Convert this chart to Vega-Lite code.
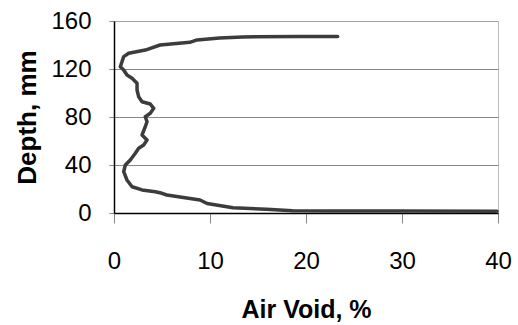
{
  "$schema": "https://vega.github.io/schema/vega-lite/v6.json",
  "autosize": {"type": "none"},
  "padding": {"left": 114, "top": 21, "right": 20, "bottom": 112},
  "width": 384,
  "height": 192,
  "background": "white",
  "config": {
    "font": "Liberation Sans",
    "view": {"stroke": "#777", "strokeDash": [1, 1], "strokeWidth": 1}
  },
  "data": {
    "values": [
      {"airvoid": 39.9, "depth": 1.4},
      {"airvoid": 29.8, "depth": 1.6},
      {"airvoid": 22.5, "depth": 1.7},
      {"airvoid": 18.6, "depth": 1.9},
      {"airvoid": 15.9, "depth": 3.1},
      {"airvoid": 12.4, "depth": 4.4},
      {"airvoid": 9.7, "depth": 7.9},
      {"airvoid": 8.96, "depth": 10.8},
      {"airvoid": 5.5, "depth": 15},
      {"airvoid": 5.0, "depth": 16.4},
      {"airvoid": 4.3, "depth": 17.75},
      {"airvoid": 2.92, "depth": 19.2},
      {"airvoid": 1.88, "depth": 21.9},
      {"airvoid": 1.35, "depth": 27.5},
      {"airvoid": 1.01, "depth": 34.4},
      {"airvoid": 1.18, "depth": 40},
      {"airvoid": 1.7, "depth": 44.2},
      {"airvoid": 2.22, "depth": 49.75},
      {"airvoid": 2.57, "depth": 53.9},
      {"airvoid": 3.09, "depth": 56.7},
      {"airvoid": 3.44, "depth": 60.8},
      {"airvoid": 2.92, "depth": 65},
      {"airvoid": 3.26, "depth": 71.9},
      {"airvoid": 3.44, "depth": 76.1},
      {"airvoid": 3.26, "depth": 80.25},
      {"airvoid": 3.78, "depth": 83.1},
      {"airvoid": 4.14, "depth": 87.25},
      {"airvoid": 3.78, "depth": 90.8},
      {"airvoid": 2.92, "depth": 92.75},
      {"airvoid": 2.57, "depth": 96.9},
      {"airvoid": 2.4, "depth": 102.5},
      {"airvoid": 2.4, "depth": 108.1},
      {"airvoid": 1.88, "depth": 112.3},
      {"airvoid": 1.35, "depth": 115},
      {"airvoid": 1.01, "depth": 119.2},
      {"airvoid": 0.66, "depth": 121.9},
      {"airvoid": 0.83, "depth": 126.1},
      {"airvoid": 1.01, "depth": 130.3},
      {"airvoid": 1.53, "depth": 133.1},
      {"airvoid": 3.26, "depth": 135.8},
      {"airvoid": 4.8, "depth": 140},
      {"airvoid": 7.9, "depth": 142.2},
      {"airvoid": 8.65, "depth": 144.2},
      {"airvoid": 11.0, "depth": 145.8},
      {"airvoid": 13.4, "depth": 146.7},
      {"airvoid": 19.4, "depth": 147.1},
      {"airvoid": 23.3, "depth": 147.1}
    ]
  },
  "mark": {"type": "line", "color": "#3c3c3c", "strokeWidth": 3.5, "strokeJoin": "round", "strokeCap": "round", "clip": false},
  "encoding": {
    "x": {
      "field": "airvoid",
      "type": "quantitative",
      "scale": {"domain": [0, 40], "nice": false},
      "axis": {
        "title": "Air Void, %",
        "values": [0, 10, 20, 30, 40],
        "grid": false,
        "domainColor": "#000",
        "domainWidth": 1.5,
        "tickColor": "#888",
        "tickSize": 10,
        "labelFontSize": 24,
        "labelColor": "#000",
        "labelPadding": 26,
        "labelFlush": false,
        "titleFontSize": 25,
        "titleFontWeight": "bold",
        "titleColor": "#000",
        "titlePadding": 24
      }
    },
    "y": {
      "field": "depth",
      "type": "quantitative",
      "scale": {"domain": [0, 160], "nice": false},
      "axis": {
        "title": "Depth, mm",
        "values": [0, 40, 80, 120, 160],
        "grid": true,
        "gridColor": "#888",
        "gridWidth": 1,
        "gridDash": {"condition": {"test": "datum.value == 160", "value": [1, 1]}, "value": []},
        "domainColor": "#000",
        "domainWidth": 1.5,
        "tickColor": "#888",
        "tickSize": 5,
        "labelFontSize": 24,
        "labelColor": "#000",
        "labelPadding": 18,
        "labelFlush": false,
        "titleFontSize": 26,
        "titleFontWeight": "bold",
        "titleColor": "#000",
        "titlePadding": 10
      }
    },
    "order": {"field": "depth", "type": "quantitative"}
  }
}
